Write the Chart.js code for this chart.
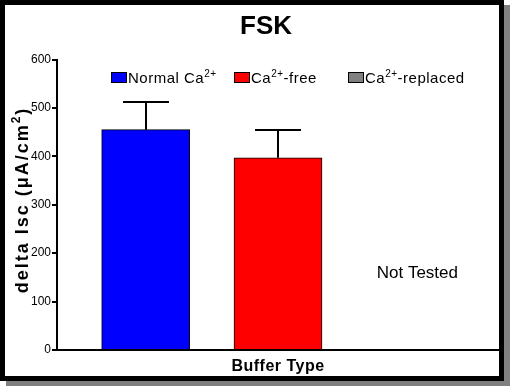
<!DOCTYPE html>
<html>
<head>
  <title>FSK</title>
  <script src="https://cdn.jsdelivr.net/npm/chart.js"></script>
  <style>
    body { margin: 0; background: #fff; }
    #frame {
      position: absolute; left: 0; top: 0;
      width: 494px; height: 371px;
      border: 5px solid #000; background: #fff;
      box-shadow: 6px 5px 0 #808080;
    }
    #wrap { position: absolute; left: 0; top: 0; width: 510px; height: 388px; }
  </style>
</head>
<body>
  <div id="frame"></div>
  <div id="wrap"><canvas id="fskChart" width="510" height="388"></canvas></div>

  <script>
    // Data
    const chartTitle = 'FSK';
    const buffers = ['Normal Ca²⁺', 'Ca²⁺-free', 'Ca²⁺-replaced'];
    const slots = [1, 2, 3];
    const means = [455, 397, null];
    const sems = [57, 57, null];
    const notes = [null, null, 'Not Tested'];
    const colors = ['#0000ff', '#ff0000', '#808080'];
    const yMin = 0, yMax = 600, yStep = 100;
    const xTitle = 'Buffer Type';
    const yTitle = 'delta Isc (μA/cm²)';

    const FONT = 'Arial, "Liberation Sans", sans-serif';
    const SUPS = { '²': '2', '⁺': '+' };

    // split text into normal / superscript runs
    function runs(text) {
      const out = [];
      for (const ch of text) {
        const sup = ch in SUPS;
        const c = sup ? SUPS[ch] : ch;
        if (out.length && out[out.length - 1].sup === sup) out[out.length - 1].t += c;
        else out.push({ t: c, sup });
      }
      return out;
    }

    // draw text with real raised superscripts (baseline = y)
    function drawRich(ctx, text, x, y, size, weight, spacing, center) {
      const parts = runs(text);
      const supSize = Math.round(size * 0.68);
      const fontFor = p => (weight ? weight + ' ' : '') + (p.sup ? supSize : size) + 'px ' + FONT;
      ctx.letterSpacing = spacing + 'px';
      let total = 0;
      parts.forEach(p => { ctx.font = fontFor(p); p.w = ctx.measureText(p.t).width; total += p.w; });
      let cx = center ? x - total / 2 : x;
      ctx.textAlign = 'left';
      ctx.textBaseline = 'alphabetic';
      parts.forEach(p => {
        ctx.font = fontFor(p);
        ctx.fillText(p.t, cx, p.sup ? y - size * 0.42 : y);
        cx += p.w;
      });
      ctx.letterSpacing = '0px';
    }

    // error bars (upper whisker only, like the original)
    const errorBars = {
      id: 'errorBars',
      afterDatasetsDraw(chart) {
        const { ctx, scales: { x, y } } = chart;
        ctx.save();
        ctx.strokeStyle = '#000';
        ctx.lineWidth = 2;
        means.forEach((m, i) => {
          if (m == null) return;
          const px = Math.round(x.getPixelForValue(slots[i]));
          const top = Math.round(y.getPixelForValue(m + sems[i]));
          const base = y.getPixelForValue(m);
          ctx.beginPath();
          ctx.moveTo(px, base);
          ctx.lineTo(px, top);
          ctx.moveTo(px - 23, top);
          ctx.lineTo(px + 23, top);
          ctx.stroke();
        });
        ctx.restore();
      }
    };

    // title, axis titles, legend inside the plot, and the "Not Tested" note
    const extras = {
      id: 'extras',
      afterDraw(chart) {
        const { ctx, chartArea, scales: { x } } = chart;
        ctx.save();
        ctx.fillStyle = '#000';

        drawRich(ctx, chartTitle, 266, 34, 26, 'bold', 0, true);
        drawRich(ctx, xTitle, (chartArea.left + chartArea.right) / 2, 371, 16, 'bold', 0.5, true);

        ctx.save();
        ctx.translate(28, 200);
        ctx.rotate(-Math.PI / 2);
        drawRich(ctx, yTitle, 0, 0, 18, 'bold', 2, true);
        ctx.restore();

        // legend
        const boxX = [111, 234, 348];
        buffers.forEach((name, i) => {
          ctx.fillStyle = colors[i];
          ctx.fillRect(boxX[i], 72, 16, 11);
          ctx.strokeStyle = '#000';
          ctx.lineWidth = 1;
          ctx.strokeRect(boxX[i] + 0.5, 72.5, 15, 10);
          ctx.fillStyle = '#000';
          drawRich(ctx, name, boxX[i] + 17, 83, 15, '', 0.5, false);
        });

        notes.forEach((n, i) => {
          if (!n) return;
          drawRich(ctx, n, x.getPixelForValue(slots[i]) + 7, 278, 17, '', 0, true);
        });
        ctx.restore();
      }
    };

    const ctx = document.getElementById('fskChart').getContext('2d');
    new Chart(ctx, {
      type: 'bar',
      data: {
        datasets: [{
          data: slots.map((s, i) => ({ x: s, y: means[i] })),
          backgroundColor: colors,
          borderColor: '#000',
          borderWidth: 1,
          barThickness: 88
        }]
      },
      options: {
        responsive: false,
        animation: false,
        devicePixelRatio: 1,
        layout: { padding: { top: 59.5, right: 11, bottom: 0, left: 0 } },
        plugins: { legend: { display: false }, tooltip: { enabled: false } },
        scales: {
          x: {
            type: 'linear',
            offset: false,
            min: 0.33,
            max: 3.67,
            ticks: { display: false },
            grid: { display: false },
            border: { display: true, color: '#000', width: 2 },
            afterFit(scale) { scale.height = 38; }
          },
          y: {
            min: yMin,
            max: yMax,
            ticks: {
              stepSize: yStep,
              color: '#000',
              padding: 1,
              font: { family: FONT, size: 12 }
            },
            grid: {
              drawOnChartArea: false,
              drawTicks: true,
              tickLength: 5,
              color: '#000',
              lineWidth: 2
            },
            border: { display: true, color: '#000', width: 2 },
            afterFit(scale) { scale.width = 57; }
          }
        }
      },
      plugins: [errorBars, extras]
    });
  </script>
</body>
</html>
